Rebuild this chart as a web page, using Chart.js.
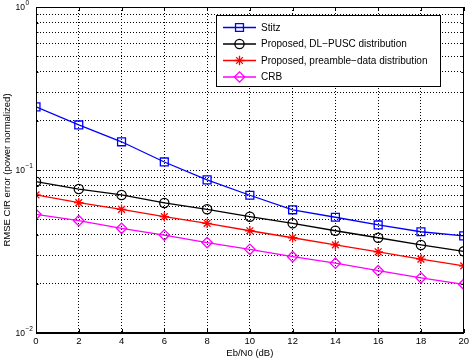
<!DOCTYPE html>
<html>
<head>
<meta charset="utf-8">
<script src="https://cdn.jsdelivr.net/npm/chart.js"></script>
<style>
  body { margin: 0; background: #fff; }
  canvas { display: block; }
</style>
</head>
<body>
<canvas id="rmseChart" width="472" height="360"></canvas>
<script>
// Eb/N0 points (dB)
const ebN0 = [0, 2, 4, 6, 8, 10, 12, 14, 16, 18, 20];

// RMSE values
const stitzRmse = [0.244, 0.189, 0.149, 0.112, 0.087, 0.070, 0.057, 0.0513, 0.046, 0.0418, 0.0394];
const dlPuscRmse = [0.0848, 0.0764, 0.0703, 0.0628, 0.0574, 0.0517, 0.0471, 0.0424, 0.0384, 0.0347, 0.0317];
const preambleRmse = [0.0703, 0.063, 0.0574, 0.0517, 0.0471, 0.0424, 0.0384, 0.0347, 0.0315, 0.0284, 0.0258];
const crbRmse = [0.0535, 0.0489, 0.0439, 0.0399, 0.0359, 0.0326, 0.0294, 0.0268, 0.0241, 0.0218, 0.0199];

const seriesNames = ['Stitz', 'Proposed, DL\u2212PUSC distribution', 'Proposed, preamble\u2212data distribution', 'CRB'];

// y ticks: decades labelled, minor log ticks for grid
const decadeTicks = [0.01, 0.1, 1];
const decadeExponents = ['\u22122', '\u22121', '0'];
const yGridTicks = [0.01, 0.02, 0.03, 0.04, 0.05, 0.06, 0.07, 0.08, 0.09,
                    0.1, 0.2, 0.3, 0.4, 0.5, 0.6, 0.7, 0.8, 0.9, 1];

const FONT = '"Liberation Sans", Arial, sans-serif';

function toPoints(values) {
    return ebN0.map((x, i) => ({ x: x, y: values[i] }));
}

function makeSeries(label, values, color, style, radius) {
    return {
        label: label,
        data: toPoints(values),
        borderColor: color,
        backgroundColor: color,
        borderWidth: 1.3,
        pointStyle: style,
        pointRadius: radius,
        pointBorderColor: color,
        pointBackgroundColor: 'rgba(0,0,0,0)',
        pointBorderWidth: 1.3,
        tension: 0
    };
}

// frame, inward ticks and y labels with exponents
const framePlugin = {
    id: 'frame',
    afterDraw(chart) {
        const { ctx, chartArea: a, scales: { x, y } } = chart;
        ctx.save();
        ctx.strokeStyle = '#000';
        ctx.lineWidth = 1;
        ctx.strokeRect(Math.round(a.left) + 0.5, Math.round(a.top) + 0.5,
                       Math.round(a.right - a.left) - 1, Math.round(a.bottom - a.top) - 1);
        ctx.beginPath();
        x.ticks.forEach(t => {
            const px = Math.round(x.getPixelForValue(t.value)) + 0.5;
            ctx.moveTo(px, a.bottom); ctx.lineTo(px, a.bottom - 4);
            ctx.moveTo(px, a.top); ctx.lineTo(px, a.top + 4);
        });
        yGridTicks.forEach(v => {
            const py = Math.round(y.getPixelForValue(v)) + 0.5;
            const len = decadeTicks.includes(v) ? 4 : 2.5;
            ctx.moveTo(a.left, py); ctx.lineTo(a.left + len, py);
            ctx.moveTo(a.right, py); ctx.lineTo(a.right - len, py);
        });
        ctx.stroke();

        ctx.fillStyle = '#000';
        ctx.textBaseline = 'middle';
        ctx.textAlign = 'left';
        decadeTicks.forEach((v, i) => {
            const py = y.getPixelForValue(v);
            ctx.font = '8.5px ' + FONT;
            ctx.fillText('10', 15.5, py + 0.5);
            const w = ctx.measureText('10').width;
            ctx.font = '6.5px ' + FONT;
            ctx.fillText(decadeExponents[i], 15.5 + w + 0.5, py - 4);
        });
        ctx.restore();
    }
};

// MATLAB-style legend box inside the plot
const legendPlugin = {
    id: 'boxLegend',
    afterDraw(chart) {
        const { ctx } = chart;
        const left = 216, top = 15, width = 224, height = 71;
        ctx.save();
        ctx.fillStyle = '#fff';
        ctx.fillRect(left, top, width, height);
        ctx.strokeStyle = '#000';
        ctx.lineWidth = 1;
        ctx.strokeRect(left + 0.5, top + 0.5, width, height);
        chart.data.datasets.forEach((ds, i) => {
            const cy = 27.5 + i * 16.5;
            ctx.strokeStyle = ds.borderColor;
            ctx.lineWidth = ds.borderWidth;
            ctx.beginPath();
            ctx.moveTo(223, cy);
            ctx.lineTo(256, cy);
            ctx.stroke();
            ctx.fillStyle = 'rgba(0,0,0,0)';
            Chart.helpers.drawPoint(ctx, {
                pointStyle: ds.pointStyle,
                radius: ds.pointRadius,
                borderWidth: ds.pointBorderWidth,
                rotation: 0
            }, 239.5, cy);
            ctx.fillStyle = '#000';
            ctx.font = '10px ' + FONT;
            ctx.textBaseline = 'middle';
            ctx.textAlign = 'left';
            ctx.fillText(ds.label, 261, cy + 0.5);
        });
        ctx.restore();
    }
};

const ctx = document.getElementById('rmseChart').getContext('2d');
const rmseChart = new Chart(ctx, {
    type: 'line',
    data: {
        datasets: [
            makeSeries(seriesNames[0], stitzRmse, '#0000ff', 'rect', 5.6),
            makeSeries(seriesNames[1], dlPuscRmse, '#000000', 'circle', 4.6),
            makeSeries(seriesNames[2], preambleRmse, '#ff0000', 'star', 4.8),
            makeSeries(seriesNames[3], crbRmse, '#ff00ff', 'rectRot', 5.2)
        ]
    },
    options: {
        responsive: false,
        animation: false,
        devicePixelRatio: 1,
        layout: { padding: { top: 7, right: 5, left: 0, bottom: 0 } },
        plugins: {
            legend: { display: false },
            tooltip: { enabled: false }
        },
        scales: {
            x: {
                type: 'linear',
                min: 0,
                max: 20,
                afterFit: s => { s.height = 27; },
                ticks: {
                    stepSize: 2,
                    padding: 3,
                    color: '#000',
                    font: { family: FONT, size: 9.5 }
                },
                grid: { color: '#000', lineWidth: 1, drawTicks: false },
                border: { color: '#000', width: 1, dash: [1, 2] },
                title: {
                    display: true,
                    text: 'Eb/N0 (dB)',
                    color: '#000',
                    font: { family: FONT, size: 9.5 },
                    padding: { top: 0, bottom: 1 }
                }
            },
            y: {
                type: 'logarithmic',
                min: 0.01,
                max: 1,
                afterFit: s => { s.width = 36; },
                afterBuildTicks: s => { s.ticks = yGridTicks.map(v => ({ value: v })); },
                ticks: { display: false },
                grid: { color: '#000', lineWidth: 1, drawTicks: false },
                border: { color: '#000', width: 1, dash: [1, 2] },
                title: {
                    display: true,
                    text: 'RMSE CIR error (power normalized)',
                    color: '#000',
                    font: { family: FONT, size: 9.5 },
                    padding: { top: 2, bottom: 0 }
                }
            }
        }
    },
    plugins: [framePlugin, legendPlugin]
});
</script>
</body>
</html>
